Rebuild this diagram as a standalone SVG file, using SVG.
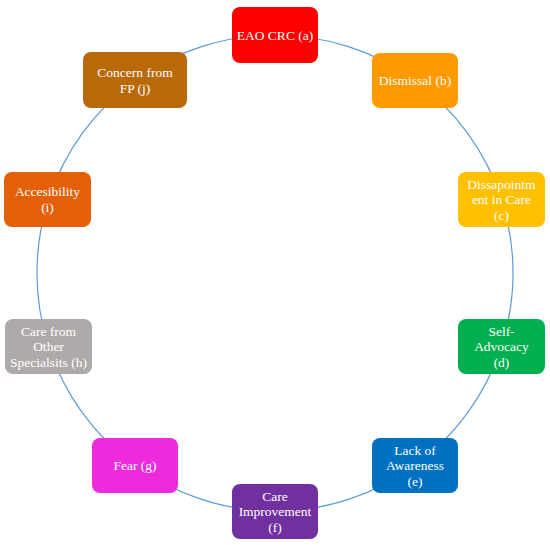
<svg xmlns="http://www.w3.org/2000/svg" width="550" height="545" viewBox="0 0 550 545">
<style>
.n rect{rx:8;ry:8}
.n text{font-family:"Liberation Serif","Times New Roman",serif;font-size:13.5px;fill:#ffffff;text-anchor:middle}
.c path{fill:none;stroke:#5B9BD5;stroke-width:1.2}
</style>
<rect width="550" height="545" fill="#ffffff"/>
<g id="connectors" class="c">
<path d="M275,35 A238,238 0 0 1 414.9,80.5"/>
<path d="M414.9,80.5 A238,238 0 0 1 501.4,199.5"/>
<path d="M501.4,199.5 A238,238 0 0 1 501.4,346.5"/>
<path d="M501.4,346.5 A238,238 0 0 1 414.9,465.5"/>
<path d="M414.9,465.5 A238,238 0 0 1 275,511"/>
<path d="M275,511 A238,238 0 0 1 135.1,465.5"/>
<path d="M135.1,465.5 A238,238 0 0 1 48.6,346.5"/>
<path d="M48.6,346.5 A238,238 0 0 1 48.6,199.5"/>
<path d="M48.6,199.5 A238,238 0 0 1 135.1,80.5"/>
<path d="M135.1,80.5 A238,238 0 0 1 275,35"/>
</g>
<g id="node-a" class="n"><rect x="232" y="7" width="86" height="56" fill="#FF0000"/><text x="275" y="39.5">EAO CRC (a)</text></g>
<g id="node-b" class="n"><rect x="372" y="53" width="86" height="55" fill="#FF9900"/><text x="415" y="85">Dismissal (b)</text></g>
<g id="node-c" class="n"><rect x="458" y="172" width="87" height="55" fill="#FFC000"/><text x="501.5" y="188.5">Dissapointm</text><text x="501.5" y="204">ent in Care</text><text x="501.5" y="219.5">(c)</text></g>
<g id="node-d" class="n"><rect x="458" y="319" width="87" height="55" fill="#00B050"/><text x="501.5" y="335.5">Self-</text><text x="501.5" y="351">Advocacy</text><text x="501.5" y="366.5">(d)</text></g>
<g id="node-e" class="n"><rect x="372" y="438" width="86" height="55" fill="#0070C0"/><text x="415" y="454.5">Lack of</text><text x="415" y="470">Awareness</text><text x="415" y="485.5">(e)</text></g>
<g id="node-f" class="n"><rect x="232" y="484" width="86" height="55" fill="#7030A0"/><text x="275" y="500.5">Care</text><text x="275" y="516">Improvement</text><text x="275" y="531.5">(f)</text></g>
<g id="node-g" class="n"><rect x="92" y="438" width="86" height="55" fill="#EE2BDC"/><text x="135" y="470">Fear (g)</text></g>
<g id="node-h" class="n"><rect x="5" y="319" width="87" height="55" fill="#AEAAAA"/><text x="48.5" y="335.5">Care from</text><text x="48.5" y="351">Other</text><text x="48.5" y="366.5">Specialsits (h)</text></g>
<g id="node-i" class="n"><rect x="4" y="172" width="87" height="55" fill="#E36009"/><text x="47.5" y="196">Accesibility</text><text x="47.5" y="211.5">(i)</text></g>
<g id="node-j" class="n"><rect x="83" y="52" width="104" height="56" fill="#B8690A"/><text x="135" y="77">Concern from</text><text x="135" y="92.5">FP (j)</text></g>
</svg>
